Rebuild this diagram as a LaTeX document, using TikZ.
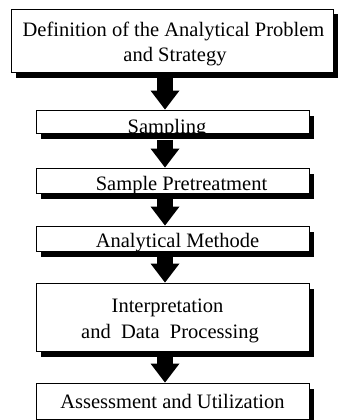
\documentclass[tikz,border=0pt]{standalone}
\usepackage{fontspec}
\setmainfont{Liberation Serif}
\usetikzlibrary{arrows.meta,shadows}
\newcommand\diagfont{\fontsize{20.5pt}{24pt}\selectfont}
\tikzset{
  boxsty/.style={draw, line width=0.9pt, fill=white, inner sep=0pt,
    drop shadow={shadow xshift=5pt, shadow yshift=-5.5pt, opacity=1, fill=black}},
  txt/.style={inner sep=0pt, anchor=base, font=\diagfont},
  bigarrow/.style={line width=16pt, -{Triangle[length=19pt 0 0, width=29pt 0 0, line width=0pt 0 0]}}
}
\begin{document}
\begin{tikzpicture}[x=1pt,y=-1pt]
\useasboundingbox (0,0) rectangle (338,420);
% boxes
\node[boxsty, minimum width=322pt, minimum height=63pt] (b1) at (172,40.5) {};
\node[boxsty, minimum width=273pt, minimum height=23.5pt] (b2) at (172.5,121.75) {};
\node[boxsty, minimum width=273pt, minimum height=25pt] (b3) at (172.5,180.5) {};
\node[boxsty, minimum width=273pt, minimum height=25pt] (b4) at (172.5,238.5) {};
\node[boxsty, minimum width=273pt, minimum height=68pt] (b5) at (172.5,317) {};
\node[boxsty, minimum width=273pt, minimum height=36pt] (b6) at (172.5,401) {};
% texts
\node[txt] (t1a) at (173.5,37) {Definition of the Analytical Problem};
\node[txt] (t1b) at (175,61) {and Strategy};
\node[txt] (t2) at (167,133) {Sampling};
\node[txt] (t3) at (181.5,190) {Sample Pretreatment};
\node[txt] (t4) at (177.5,247) {Analytical Methode};
\node[txt] (t5a) at (167.5,312) {Interpretation};
\node[txt] (t5b) at (170,338) {and\ \ Data\ \ Processing};
\node[txt] (t6) at (172.5,408) {Assessment and Utilization};
% arrows
\draw[bigarrow] ([xshift=-7pt,yshift=-6pt]b1.south) -- ([xshift=-7.5pt]b2.north);
\draw[bigarrow] ([xshift=-7.5pt,yshift=-6pt]b2.south) -- ([xshift=-7.5pt]b3.north);
\draw[bigarrow] ([xshift=-7.5pt,yshift=-6pt]b3.south) -- ([xshift=-7.5pt]b4.north);
\draw[bigarrow] ([xshift=-7.5pt,yshift=-6pt]b4.south) -- ([xshift=-7.5pt]b5.north);
\draw[bigarrow] ([xshift=-7.5pt,yshift=-6pt]b5.south) -- ([xshift=-7.5pt]b6.north);
\end{tikzpicture}
\end{document}
